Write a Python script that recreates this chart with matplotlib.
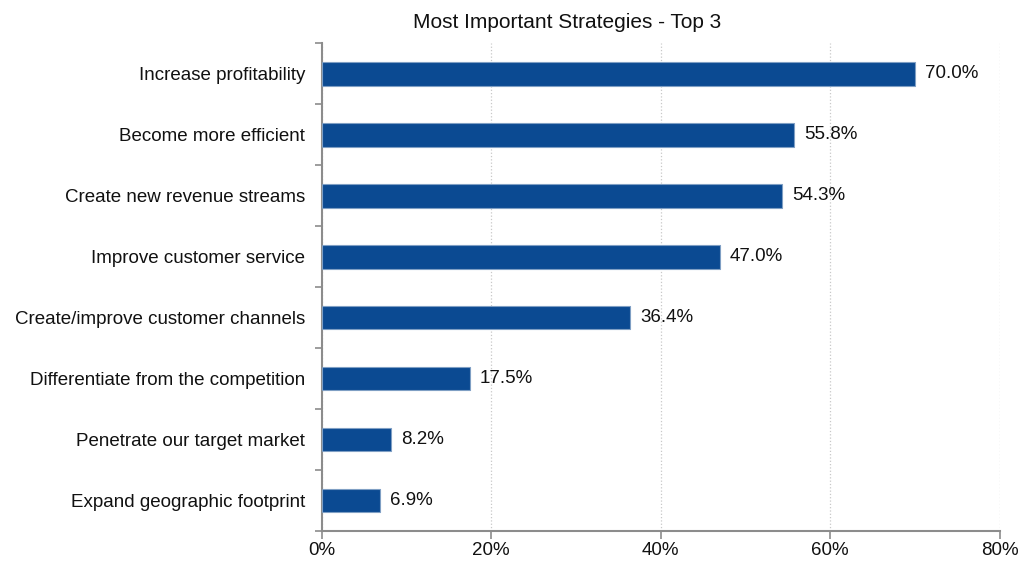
import numpy as np
import matplotlib.pyplot as plt
from matplotlib.ticker import FixedLocator, FuncFormatter

plt.rcParams['font.family'] = ['Liberation Sans', 'DejaVu Sans']

strategies = [
    'Increase profitability',
    'Become more efficient',
    'Create new revenue streams',
    'Improve customer service',
    'Create/improve customer channels',
    'Differentiate from the competition',
    'Penetrate our target market',
    'Expand geographic footprint',
]
shares = [70.0, 55.8, 54.3, 47.0, 36.4, 17.5, 8.2, 6.9]
x_ticks = [0, 20, 40, 60, 80]

bar_color = '#0b4a92'
axis_color = '#8c8c8c'
text_color = '#111111'

fig = plt.figure(figsize=(10.21, 5.63), dpi=100)
ax = fig.add_axes([0.315, 0.057, 0.664, 0.866])

pos = np.arange(len(strategies))
ax.barh(pos, shares, height=0.39, color=bar_color, edgecolor='#7f9fc4', linewidth=0.8, zorder=3)

for p, v in zip(pos, shares):
    ax.text(v + 1.2, p, f'{v:.1f}%', va='center', ha='left', fontsize=13.5, color=text_color)

ax.set_xlim(0, 80)
ax.set_ylim(len(strategies) - 0.5, -0.5)
ax.set_xticks(x_ticks)
ax.xaxis.set_major_formatter(FuncFormatter(lambda v, _: f'{v:.0f}%'))
ax.set_yticks(pos)
ax.set_yticklabels(strategies)
ax.yaxis.set_minor_locator(FixedLocator(np.arange(-0.5, len(strategies), 1.0)))

ax.tick_params(axis='y', which='major', length=0, pad=12, labelsize=13.5, labelcolor=text_color)
ax.tick_params(axis='y', which='minor', length=5, width=1.2, color=axis_color, direction='out')
ax.tick_params(axis='x', which='major', length=6, width=1.2, color=axis_color, pad=2,
               labelsize=13.5, labelcolor=text_color)

ax.grid(axis='x', color='#c8c8c8', linestyle=':', linewidth=0.9, zorder=0)

for side in ['top', 'right']:
    ax.spines[side].set_visible(False)
for side in ['left', 'bottom']:
    ax.spines[side].set_color(axis_color)
    ax.spines[side].set_linewidth(1.5)

fig.text(0.555, 0.96, 'Most Important Strategies - Top 3', ha='center', va='center',
         fontsize=15, color=text_color)

fig.savefig('out.png', dpi=100)
